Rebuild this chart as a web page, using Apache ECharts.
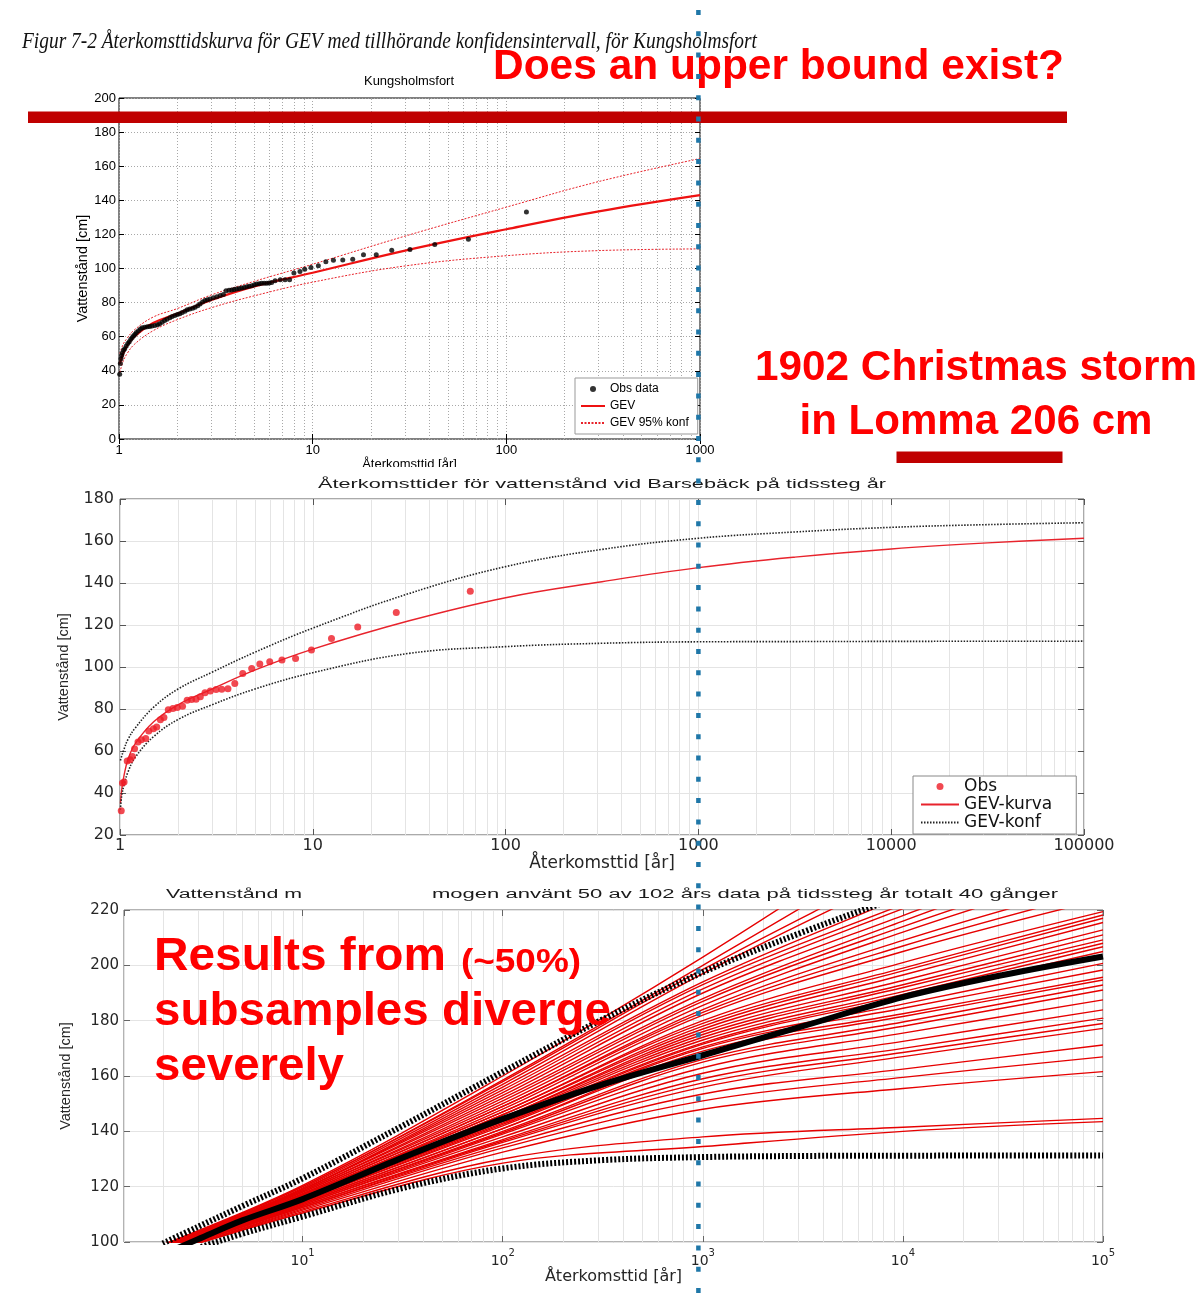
<!DOCTYPE html>
<html><head><meta charset="utf-8">
<script src="https://cdn.jsdelivr.net/npm/echarts@6/dist/echarts.min.js"></script>
<style>html,body{margin:0;padding:0;background:#fff}#c{width:1199px;height:1296px}</style>
</head><body><div id="c"></div>
<script>
// ---------------- DATA ----------------
// Chart 1: Kungsholmsfort  [return period (år), water level (cm)]
const kungObs = [[1.008,38],[1.016,44.3],[1.024,47],[1.032,49],[1.04,50.5],[1.055,52],[1.07,53],[1.09,54.5],[1.11,56],[1.13,57],[1.15,58.5],[1.17,59.5],[1.19,60.5],[1.21,61.5],[1.23,62.5],[1.26,63.5],[1.29,64.5],[1.32,65.3],[1.36,65.6],[1.4,65.8],[1.44,66],[1.48,66.3],[1.53,66.6],[1.58,67],[1.62,67.6],[1.67,68.5],[1.72,69.5],[1.77,70.3],[1.83,71.1],[1.88,71.8],[1.94,72.4],[2.0,73],[2.06,73.4],[2.12,74.2],[2.19,75],[2.25,75.8],[2.32,76.3],[2.4,76.7],[2.47,77.3],[2.55,78.2],[2.62,79.2],[2.7,80.3],[2.78,81.2],[2.86,81.7],[2.95,82.1],[3.07,82.8],[3.2,83.5],[3.33,84.1],[3.46,84.7],[3.57,87],[3.7,87.2],[3.82,87.4],[3.93,87.7],[4.05,88],[4.18,88.2],[4.3,88.5],[4.43,88.9],[4.57,89.3],[4.7,89.6],[4.85,89.9],[5.0,90.4],[5.14,90.9],[5.3,91.1],[5.45,91.3],[5.62,91.3],[5.79,91.3],[5.96,91.5],[6.14,91.8],[6.4,92.8],[6.8,93.4],[7.2,93.4],[7.6,93.4],[8.0,97.3],[8.6,98.3],[9.1,99.6],[9.8,100.6],[10.7,101.6],[11.7,104],[12.8,104.9],[14.3,105],[16.1,105.4],[18.3,108],[21.3,108],[25.6,110.7],[31.8,111.1],[42.7,114.1],[63.7,117.2],[127,133.2]];
const kungReturnT = [1.01,1.05,1.1,1.2,1.5,2,3,5,10,30,100,300,1000];
const kungGev     = [44,50,54.5,60,68,73.5,81.5,89.5,97.5,110.5,123,133.5,143];
const kungUpper   = [50,55.5,59,64,71.5,76.5,84.5,92.5,102.5,119,136,151,164.5];
const kungLower   = [39,45.5,50,55.5,63.5,70,77,84,92,101.5,107.5,110.5,111.5];
const kungXTicks = [1,10,100,1000];
const kungYTicks = [0,20,40,60,80,100,120,140,160,180,200];

// Chart 2: Barsebäck
const barsObs = [[1.015,31.6],[1.03,44.8],[1.05,45.2],[1.09,55.2],[1.13,55.8],[1.16,57.4],[1.19,61.1],[1.24,64.3],[1.29,65.4],[1.36,65.9],[1.41,69.5],[1.49,70.6],[1.55,71.4],[1.62,74.9],[1.69,75.9],[1.78,79.7],[1.88,80.2],[1.98,80.7],[2.11,81.3],[2.23,84.2],[2.35,84.5],[2.48,84.6],[2.61,85.8],[2.76,87.7],[2.94,88.6],[3.15,89.3],[3.37,89.4],[3.63,89.7],[3.94,92.1],[4.33,96.9],[4.82,99.3],[5.31,101.4],[5.98,102.5],[6.92,103.3],[8.14,104.1],[9.84,108.1],[12.5,113.6],[17.1,119.0],[27.1,125.9],[65.6,136.1]];
const barsReturnT = [1.005,1.02,1.05,1.1,1.2,1.5,2,3,5,10,31.6,100,316,1000,3162,10000,31623,100000];
const barsGev     = [35,41.5,48.5,56,63.5,74,82,89.5,98.5,108.5,122,133,140.6,147.3,152.3,156.2,159.1,161.3];
const barsUpper   = [55.5,57.5,61,65.5,71,81,89.5,97.5,107,118.5,135,147.8,156,161.3,164.3,166.5,167.8,168.7];
const barsLower   = [32,38.5,44,50,57,67,75,82,89.5,97.3,106.5,109.7,111.3,112,112.1,112.2,112.25,112.3];
const barsXTicks = [1,10,100,1000,10000,100000];
const barsYTicks = [20,40,60,80,100,120,140,160,180];

// Chart 3: 40 subsample GEV curves (values at subReturnT)
const subReturnT = [2,10,100,1000,10000,100000];
const subsampleLevels = [
 [99,120.5,160,203,250,300],[99,120,158.5,200,243,290],[98.5,120,158,198.5,236,275],[98.5,119.5,157,197,233,270],
 [98.5,119,156,194,225,258],[98,119,155,193,222,250],[98,119,154,191.5,220.5,248],[98,118.5,153,190,218,244],
 [98,118.5,152,188,216,242],[97.5,118,151,187,214,238],[97.5,118,150,185.5,212,235],[97.5,117.5,149,184,209,230],
 [97.5,117.5,149,183,207,227],[97.5,117,148,182,205,224],[97.5,117,147,180,201,219.4],[97,117,147,179,199,218.2],
 [97,116.5,146,178,198,217],[97,116.5,146,177,196.5,215.5],[97,116,145,176,194.5,212.8],[97,116,145,175,193,211],
 [97,116,144.5,174,192,209.2],[96.5,115.5,144,173,190.5,208],[96.5,115.5,143.5,172,189.5,206.7],[96.5,115.5,143,171.5,188.5,205],
 [96.5,115,142.5,170.5,186,200.7],[96.5,115,142,170,184.5,198.3],[96.5,114.5,141,169,182.5,195.7],[96,114.5,141,168,181.5,194.7],
 [96,114,140,166,179.5,192.9],[96,114,139.5,165,178,191.1],[96,113.5,139,163,175.5,187.5],[96,113.5,138,161,172.5,183.9],
 [96,113,137,159,170,180.9],[96,113,136.5,157.5,168.5,179],[96,112.5,136,156,167,177.2],[96,112.5,135,153.5,162.5,171.2],
 [95.5,112,134,151,159.5,166.9],[95.5,111.5,132.5,148,155.5,161.6],[95.5,111,130,138,141.5,144.7],[95.5,110.5,128.5,134.5,140,143.5]
];
const fullReturnT = [2,3,5,10,31.6,100,316,1000,3162,10000,31623,100000];
const fullGev     = [95.5,101,107.8,115.5,130.5,144.5,157,167.5,178,188.5,196.5,203.2];
const fullUpper   = [99.5,105.5,113,123,142,161.5,180.5,197.5,212,225,236,246];
const fullLower   = [93.8,97.8,103,109.2,119.5,126.6,129.6,130.7,131.1,131.2,131.25,131.3];
const subXMin = 1.28;
const subXTicks = [10,100,1000,10000,100000];
const subYTicks = [100,120,140,160,180,200,220];
const markReturnT = 1000;

// ---------------- HELPERS ----------------
const zip = (xs, ys) => xs.map((x, i) => [x, ys[i]]);
function minorGrid(min, max) {
  const out = [];
  for (let e = Math.floor(Math.log10(min)); Math.pow(10, e) < max; e++) {
    for (let m = 2; m <= 9; m++) {
      const v = m * Math.pow(10, e);
      if (v > min && v < max) out.push({ xAxis: v });
    }
  }
  return out;
}
const powLabel = v => {
  const e = Math.log10(v), r = Math.round(e);
  return Math.abs(e - r) < 1e-9 ? String(Math.round(v)) : '';
};
const supLabel = v => {
  const e = Math.log10(v), r = Math.round(e);
  if (Math.abs(e - r) > 1e-9 || r < 1) return '';
  return '{b|10}{s|' + r + '}';
};

const F1 = 'Liberation Sans', F2 = 'DejaVu Sans';

function mirrorX(gi, min, max, color, len) {
  return { type: 'log', gridIndex: gi, position: 'top', min, max, logBase: 10,
    axisLine: { show: false }, axisLabel: { show: false }, splitLine: { show: false },
    axisTick: { show: true, inside: true, length: len, lineStyle: { color } } };
}
function mirrorY(gi, ticks, color, len) {
  return { type: 'value', gridIndex: gi, position: 'right', min: ticks[0], max: ticks[ticks.length - 1],
    interval: ticks[1] - ticks[0],
    axisLine: { show: false }, axisLabel: { show: false }, splitLine: { show: false },
    axisTick: { show: true, inside: true, length: len, lineStyle: { color } } };
}

const gridLine1 = { color: '#a8a8a8', width: 1, type: [1, 2] };
const gridLine2 = { color: '#e4e4e4', width: 1, type: 'solid' };
const noSymbol = { opacity: 0, color: 'rgba(0,0,0,0)', borderWidth: 0 };

// ---------------- OPTION ----------------
const series = [];
// Chart 1
series.push({ type: 'line', xAxisIndex: 0, yAxisIndex: 0, data: [], silent: true,
  markLine: { silent: true, symbol: ['none', 'none'], z: 1, animation: false, label: { show: false },
    lineStyle: gridLine1, emphasis: { disabled: true }, data: minorGrid(kungXTicks[0], kungXTicks[kungXTicks.length - 1]) } });
series.push({ name: 'Obs data', type: 'scatter', xAxisIndex: 0, yAxisIndex: 0, data: kungObs,
  symbol: 'circle', symbolSize: 5, itemStyle: { color: '#000' }, z: 4 });
series.push({ name: 'GEV', type: 'line', xAxisIndex: 0, yAxisIndex: 0, data: zip(kungReturnT, kungGev),
  smooth: 0.4, symbol: 'none', lineStyle: { color: '#ee1111', width: 2.2 }, itemStyle: { color: '#ee1111' }, z: 3 });
series.push({ name: 'GEV 95% konf', type: 'line', xAxisIndex: 0, yAxisIndex: 0, data: zip(kungReturnT, kungUpper),
  smooth: 0.4, symbol: 'none', lineStyle: { color: '#e8222a', width: 1, type: [2, 1.5] }, itemStyle: { color: '#e8222a' }, z: 3 });
series.push({ name: 'GEV 95% konf', type: 'line', xAxisIndex: 0, yAxisIndex: 0, data: zip(kungReturnT, kungLower),
  smooth: 0.4, symbol: 'none', lineStyle: { color: '#e8222a', width: 1, type: [2, 1.5] }, itemStyle: { color: '#e8222a' }, z: 3 });
// Chart 2
series.push({ type: 'line', xAxisIndex: 2, yAxisIndex: 2, data: [], silent: true,
  markLine: { silent: true, symbol: ['none', 'none'], z: 1, animation: false, label: { show: false },
    lineStyle: gridLine2, emphasis: { disabled: true }, data: minorGrid(barsXTicks[0], barsXTicks[barsXTicks.length - 1]) } });
series.push({ name: 'Obs', type: 'scatter', xAxisIndex: 2, yAxisIndex: 2, data: barsObs,
  symbol: 'circle', symbolSize: 7, itemStyle: { color: '#ee1c25' }, z: 4 });
series.push({ name: 'GEV-kurva', type: 'line', xAxisIndex: 2, yAxisIndex: 2, data: zip(barsReturnT, barsGev),
  smooth: 0.4, symbol: 'none', lineStyle: { color: '#e8232c', width: 1.4 }, itemStyle: { color: '#e8232c' }, z: 3 });
series.push({ name: 'GEV-konf', type: 'line', xAxisIndex: 2, yAxisIndex: 2, data: zip(barsReturnT, barsUpper),
  smooth: 0.4, symbol: 'none', lineStyle: { color: '#222', width: 1.6, type: [1.5, 1.5] }, itemStyle: { color: '#222' }, z: 3 });
series.push({ name: 'GEV-konf', type: 'line', xAxisIndex: 2, yAxisIndex: 2, data: zip(barsReturnT, barsLower),
  smooth: 0.4, symbol: 'none', lineStyle: { color: '#222', width: 1.6, type: [1.5, 1.5] }, itemStyle: { color: '#222' }, z: 3 });
// Chart 3
series.push({ type: 'line', xAxisIndex: 4, yAxisIndex: 4, data: [], silent: true,
  markLine: { silent: true, symbol: ['none', 'none'], z: 1, animation: false, label: { show: false },
    lineStyle: gridLine2, emphasis: { disabled: true }, data: minorGrid(subXMin, subXTicks[subXTicks.length - 1]) } });
subsampleLevels.forEach((lv, i) => {
  series.push({ name: 'delprov ' + (i + 1), type: 'line', xAxisIndex: 4, yAxisIndex: 4, data: zip(subReturnT, lv),
    smooth: 0.35, symbol: 'none', lineStyle: { color: '#e60000', width: 1.4 }, z: 3, silent: true });
});
series.push({ name: 'GEV alla data', type: 'line', xAxisIndex: 4, yAxisIndex: 4, data: zip(fullReturnT, fullGev),
  smooth: 0.35, symbol: 'none', lineStyle: { color: '#000', width: 6 }, z: 5, silent: true });
series.push({ name: 'konf övre', type: 'line', xAxisIndex: 4, yAxisIndex: 4, data: zip(fullReturnT, fullUpper),
  smooth: 0.35, symbol: 'none', lineStyle: { color: '#000', width: 6, type: [2, 2] }, z: 5, silent: true });
series.push({ name: 'konf undre', type: 'line', xAxisIndex: 4, yAxisIndex: 4, data: zip(fullReturnT, fullLower),
  smooth: 0.35, symbol: 'none', lineStyle: { color: '#000', width: 6, type: [2, 2] }, z: 5, silent: true });

const option = {
  animation: false,
  backgroundColor: '#fff',
  textStyle: { fontFamily: F1 },
  grid: [
    { left: 119, top: 98, width: 581, height: 341, show: true, borderColor: '#000', borderWidth: 1, backgroundColor: 'transparent', containLabel: false, outerBoundsMode: 'none' },
    { left: 120, top: 499, width: 964, height: 336, show: true, borderColor: '#555', borderWidth: 1, backgroundColor: 'transparent', containLabel: false, outerBoundsMode: 'none' },
    { left: 124, top: 910, width: 979, height: 332, show: true, borderColor: '#666', borderWidth: 1, backgroundColor: 'transparent', containLabel: false, outerBoundsMode: 'none' }
  ],
  xAxis: [
    { type: 'log', gridIndex: 0, logBase: 10, min: kungXTicks[0], max: kungXTicks[kungXTicks.length - 1],
      name: 'Återkomsttid [år]', nameLocation: 'middle', nameGap: 17, nameTextStyle: { fontFamily: F1, fontSize: 13, color: '#000' },
      axisLine: { show: false }, axisTick: { inside: true, length: 5, lineStyle: { color: '#000' } },
      axisLabel: { formatter: powLabel, fontFamily: F1, fontSize: 13, color: '#000', margin: 5 },
      splitLine: { show: true, lineStyle: gridLine1 } },
    mirrorX(0, kungXTicks[0], kungXTicks[kungXTicks.length - 1], '#000', 5),
    { type: 'log', gridIndex: 1, logBase: 10, min: barsXTicks[0], max: barsXTicks[barsXTicks.length - 1],
      name: 'Återkomsttid [år]', nameLocation: 'middle', nameGap: 17, nameTextStyle: { fontFamily: F2, fontSize: 17, color: '#262626' },
      axisLine: { show: false }, axisTick: { inside: true, length: 6, lineStyle: { color: '#555' } },
      axisLabel: { formatter: powLabel, fontFamily: F2, fontSize: 16, color: '#262626', margin: 3 },
      splitLine: { show: true, lineStyle: gridLine2 } },
    mirrorX(1, barsXTicks[0], barsXTicks[barsXTicks.length - 1], '#555', 6),
    { type: 'log', gridIndex: 2, logBase: 10, min: subXMin, max: subXTicks[subXTicks.length - 1],
      name: 'Återkomsttid [år]', nameLocation: 'middle', nameGap: 23, nameTextStyle: { fontFamily: F2, fontSize: 16, color: '#262626' },
      axisLine: { show: false }, axisTick: { inside: true, length: 6, lineStyle: { color: '#666' } },
      axisLabel: { formatter: supLabel, margin: 6, showMinLabel: false,
        rich: { b: { fontFamily: F2, fontSize: 14, color: '#262626', lineHeight: 20, verticalAlign: 'bottom' },
                s: { fontFamily: F2, fontSize: 10, color: '#262626', lineHeight: 20, verticalAlign: 'top' } } },
      splitLine: { show: true, lineStyle: gridLine2 } },
    mirrorX(2, subXMin, subXTicks[subXTicks.length - 1], '#666', 6)
  ],
  yAxis: [
    { type: 'value', gridIndex: 0, min: kungYTicks[0], max: kungYTicks[kungYTicks.length - 1], interval: kungYTicks[1] - kungYTicks[0],
      name: 'Vattenstånd [cm]', nameLocation: 'middle', nameGap: 27, nameTextStyle: { fontFamily: F1, fontSize: 14.5, color: '#000' },
      axisLine: { show: false }, axisTick: { inside: true, length: 5, lineStyle: { color: '#000' } },
      axisLabel: { fontFamily: F1, fontSize: 13, color: '#000', margin: 3 },
      splitLine: { show: true, lineStyle: gridLine1 } },
    mirrorY(0, kungYTicks, '#000', 5),
    { type: 'value', gridIndex: 1, min: barsYTicks[0], max: barsYTicks[barsYTicks.length - 1], interval: barsYTicks[1] - barsYTicks[0],
      name: 'Vattenstånd [cm]', nameLocation: 'middle', nameGap: 49, nameTextStyle: { fontFamily: F1, fontSize: 14.5, color: '#262626' },
      axisLine: { show: false }, axisTick: { inside: true, length: 6, lineStyle: { color: '#555' } },
      axisLabel: { fontFamily: F2, fontSize: 16, color: '#262626', margin: 6 },
      splitLine: { show: true, lineStyle: gridLine2 } },
    mirrorY(1, barsYTicks, '#555', 6),
    { type: 'value', gridIndex: 2, min: subYTicks[0], max: subYTicks[subYTicks.length - 1], interval: subYTicks[1] - subYTicks[0],
      name: 'Vattenstånd [cm]', nameLocation: 'middle', nameGap: 51, nameTextStyle: { fontFamily: F1, fontSize: 14.5, color: '#262626' },
      axisLine: { show: false }, axisTick: { inside: true, length: 6, lineStyle: { color: '#666' } },
      axisLabel: { fontFamily: F2, fontSize: 15, color: '#262626', margin: 5 },
      splitLine: { show: true, lineStyle: gridLine2 } },
    mirrorY(2, subYTicks, '#666', 6)
  ],
  legend: [
    { data: ['Obs data', { name: 'GEV', itemStyle: noSymbol }, { name: 'GEV 95% konf', itemStyle: noSymbol }],
      orient: 'vertical', left: 575, top: 378,
      itemWidth: 24, itemHeight: 6, itemGap: 5, padding: [5, 9, 5, 5], selectedMode: false,
      backgroundColor: '#fff', borderColor: '#999', borderWidth: 1, borderRadius: 0,
      textStyle: { fontFamily: F1, fontSize: 12, color: '#000' } },
    { data: ['Obs', { name: 'GEV-kurva', itemStyle: noSymbol }, { name: 'GEV-konf', itemStyle: noSymbol }],
      orient: 'vertical', left: 913, top: 776,
      itemWidth: 38, itemHeight: 7, itemGap: 1, padding: [2, 24, 3, 7], selectedMode: false,
      backgroundColor: '#fff', borderColor: '#888', borderWidth: 1, borderRadius: 0,
      textStyle: { fontFamily: F2, fontSize: 17, color: '#111' } }
  ],
  series
};

const chart = echarts.init(document.getElementById('c'), null, { renderer: 'canvas' });
chart.setOption(option);

// ---------------- ANNOTATIONS ----------------
const mctx = document.createElement('canvas').getContext('2d');
function fitText(str, font, fill, x, y, align, targetW, z) {
  mctx.font = font;
  const w = mctx.measureText(str).width || targetW;
  return { type: 'text', x, y, scaleX: targetW / w, z: z || 100, silent: true,
    style: { text: str, font, fill, align, textAlign: align, verticalAlign: 'middle', textVerticalAlign: 'middle' } };
}
const xMark = chart.convertToPixel({ xAxisIndex: 2 }, markReturnT);
const RED = '#ff0000', DARKRED = '#c00000';
const graphic = [
  fitText('Figur 7-2 Återkomsttidskurva för GEV med tillhörande konfidensintervall, för Kungsholmsfort',
    'italic 23px "Liberation Serif"', '#111', 22, 41.5, 'left', 735),
  fitText('Kungsholmsfort', '13px "Liberation Sans"', '#000', 409, 81.5, 'center', 90),
  fitText('Återkomsttider för vattenstånd vid Barsebäck på tidssteg år', '13.5px "Liberation Sans"', '#1a1a1a', 602, 484, 'center', 568),
  fitText('Vattenstånd m', '12.5px "Liberation Sans"', '#1a1a1a', 166, 895, 'left', 136),
  fitText('mogen använt 50 av 102 års data på tidssteg år totalt 40 gånger', '12.5px "Liberation Sans"', '#1a1a1a', 432, 895, 'left', 626),
  { type: 'rect', z: 50, silent: true, shape: { x: 330, y: 467, width: 170, height: 8 }, style: { fill: '#fff' } },
  fitText('Does an upper bound exist?', 'bold 42px "Liberation Sans"', RED, 493, 67, 'left', 571),
  { type: 'rect', z: 100, silent: true, shape: { x: 28, y: 111.5, width: 1039, height: 11.5 }, style: { fill: DARKRED } },
  fitText('1902 Christmas storm', 'bold 42px "Liberation Sans"', RED, 976, 368, 'center', 442),
  fitText('in Lomma 206 cm', 'bold 42px "Liberation Sans"', RED, 976, 422, 'center', 353),
  { type: 'rect', z: 100, silent: true, shape: { x: 896.5, y: 451.5, width: 166, height: 11.5 }, style: { fill: DARKRED } },
  fitText('Results from', 'bold 46px "Liberation Sans"', RED, 154, 957, 'left', 292),
  fitText('(~50%)', 'bold 34px "Liberation Sans"', RED, 461, 963, 'left', 120),
  fitText('subsamples diverge', 'bold 46px "Liberation Sans"', RED, 154, 1012, 'left', 457),
  fitText('severely', 'bold 46px "Liberation Sans"', RED, 154, 1067, 'left', 190),
  { type: 'line', z: 120, silent: true, shape: { x1: xMark, y1: 10, x2: xMark, y2: 1296 },
    style: { stroke: '#1f77a8', lineWidth: 4.5, lineDash: [5, 16.3] } }
];
chart.setOption({ graphic });
</script></body></html>
